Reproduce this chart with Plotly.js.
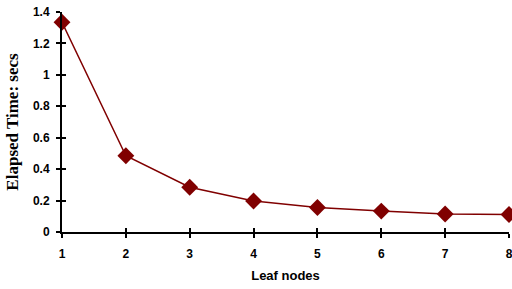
<!DOCTYPE html>
<html><head><meta charset="utf-8">
<script src="https://cdn.plot.ly/plotly-3.0.1.min.js"></script>
<style>html,body{margin:0;padding:0;background:#fff}#c{width:512px;height:289px}</style>
</head><body><div id="c"></div>
<script>
const leafNodes = [1, 2, 3, 4, 5, 6, 7, 8];
const elapsedSecs = [1.335, 0.485, 0.285, 0.197, 0.156, 0.133, 0.115, 0.111];
const yTicks = [0, 0.2, 0.4, 0.6, 0.8, 1, 1.2, 1.4];
const yTickText = ['0', '0.2', '0.4', '0.6', '0.8', '1', '1.2', '1.4'];

const trace = {
  x: leafNodes, y: elapsedSecs, type: 'scatter', mode: 'lines+markers',
  line: {color: '#800000', width: 1.5},
  marker: {symbol: 'diamond', size: 13, color: '#800000'},
  cliponaxis: false
};
const tickFont = {family: 'Liberation Sans, Arial, sans-serif', size: 12, color: '#000', weight: 700};
const layout = {
  width: 512, height: 289,
  margin: {l: 62, r: 3, t: 12, b: 57},
  paper_bgcolor: '#fff', plot_bgcolor: '#fff',
  showlegend: false,
  xaxis: {
    range: [1, 8], tickvals: leafNodes, ticks: 'outside', ticklen: 4, tickwidth: 2, tickcolor: '#000',
    showline: true, linecolor: '#000', linewidth: 2, showgrid: false, zeroline: false,
    tickfont: tickFont, ticklabeloverflow: 'allow', ticklabelstandoff: 6,
    title: {text: 'Leaf nodes', font: {family: 'Liberation Sans, Arial, sans-serif', size: 13, color: '#000', weight: 700}, standoff: 10}
  },
  yaxis: {
    range: [0, 1.4], tickvals: yTicks, ticktext: yTickText, ticks: 'outside', ticklen: 4, tickwidth: 2, tickcolor: '#000',
    showline: true, linecolor: '#000', linewidth: 2, showgrid: false, zeroline: false,
    tickfont: tickFont, ticklabeloverflow: 'allow', ticklabelstandoff: 4,
    title: {text: 'Elapsed Time: secs', font: {family: 'Liberation Serif, Times New Roman, serif', size: 17, color: '#000', weight: 700}, standoff: 10}
  },
  xaxis2: {overlaying: 'x', range: [1, 8], tickvals: leafNodes, ticks: 'inside', ticklen: 4, tickwidth: 2, tickcolor: '#000', showticklabels: false, showgrid: false, zeroline: false, side: 'bottom'},
  yaxis2: {overlaying: 'y', range: [0, 1.4], tickvals: yTicks, ticks: 'inside', ticklen: 4, tickwidth: 2, tickcolor: '#000', showticklabels: false, showgrid: false, zeroline: false, side: 'left'}
};
const helper = {x: [1], y: [0], xaxis: 'x2', yaxis: 'y2', mode: 'markers', marker: {opacity: 0}, hoverinfo: 'skip', type: 'scatter'};
Plotly.newPlot('c', [helper, trace], layout, {staticPlot: true});
</script></body></html>
